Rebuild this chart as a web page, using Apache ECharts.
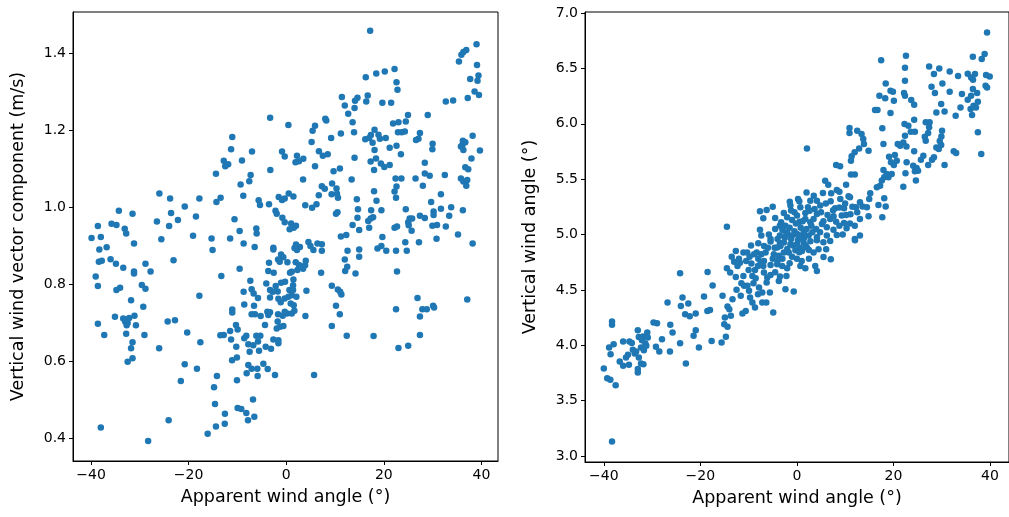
<!DOCTYPE html>
<html>
<head>
<meta charset="utf-8">
<script src="https://cdn.jsdelivr.net/npm/echarts@6/dist/echarts.min.js"></script>
<style>
  html, body { margin: 0; padding: 0; background: #fff; }
  #chart { width: 1009px; height: 517px; }
</style>
</head>
<body>
<div id="chart"></div>
<script>
// apparent wind angle (deg) vs vertical wind vector component (m/s)
const vectorPoints = [
  [-14.4,1.087],[-26.0,1.036],[-23.8,1.023],[-17.8,1.023],[-14.3,1.014],[-20.8,1.002],[-34.3,0.991],[-31.5,0.983],[-23.6,0.985],[-18.5,0.976],
  [-26.5,0.963],[-22.2,0.967],[-24.0,0.951],[-38.6,0.951],[-35.8,0.957],[-34.8,0.954],[-33.1,0.944],[-32.8,0.932],[-39.9,0.920],[-38.0,0.923],
  [-19.1,0.926],[-25.6,0.917],[-15.3,0.919],
  [-31.2,0.906],[-38.3,0.890],[-36.8,0.896],[-15.1,0.889],[-38.4,0.858],[-37.8,0.861],[-36.0,0.865],[-34.9,0.853],[-33.4,0.843],[-31.2,0.833],
  [-31.2,0.828],[-28.85,0.853],[-27.8,0.833],[-23.1,0.862],[-39.05,0.820],[-38.6,0.795],[-34.8,0.785],[-34.05,0.791],[-29.6,0.798],[-28.85,0.788],
  [-17.8,0.770],[-31.8,0.758],[-29.3,0.741],[-35.1,0.715],[-33.4,0.711],[-32.2,0.712],[-31.1,0.718],[-33.0,0.702],[-32.7,0.693],[-32.5,0.699],
  [-38.6,0.697],[-30.8,0.693],[-24.3,0.703],[-22.8,0.706],[-37.3,0.668],[-32.8,0.671],[-29.06,0.668],[-20.3,0.674],[-31.5,0.649],[-31.8,0.633],
  [-17.6,0.649],[-26.04,0.633],[-32.5,0.598],[-31.5,0.607],[-20.8,0.592],[-18.3,0.580],[-21.6,0.548],[-14.2,0.561],[-14.8,0.532],[-14.6,0.488],
  [-24.1,0.446],[-38.0,0.427],[-14.4,0.430],[-16.1,0.411],[-28.3,0.392],
  [11.4,1.287],[14.6,1.285],[14.1,1.277],[12.0,1.265],[14.0,1.258],[12.7,1.243],[13.6,1.221],[-3.3,1.233],[0.44,1.214],[8.0,1.230],
  [8.2,1.226],[5.9,1.212],[5.4,1.199],[11.2,1.192],[13.9,1.195],[9.2,1.180],[-11.06,1.183],[5.2,1.170],[-11.3,1.151],[-7.02,1.145],
  [-0.86,1.145],[-0.31,1.132],[6.7,1.146],[7.5,1.134],[8.5,1.138],[-12.8,1.121],[-11.9,1.112],[-12.5,1.107],[-9.07,1.122],[2.2,1.134],
  [1.9,1.117],[2.6,1.120],[3.5,1.126],[5.9,1.107],[14.0,1.129],[-3.26,1.097],[11.0,1.101],[9.7,1.094],[-7.3,1.084],[-7.57,1.068],
  [3.45,1.072],[13.4,1.072],[-9.35,1.059],[7.3,1.055],[7.9,1.048],[9.4,1.062],[10.3,1.049],[9.3,1.034],[10.4,1.035],[10.6,1.025],
  [-8.8,1.030],[-13.45,1.025],[-5.65,1.018],[-5.38,1.006],[-3.53,1.008],[-1.54,1.027],[-0.86,1.019],[-0.31,1.023],[0.51,1.036],[1.47,1.028],
  [6.67,1.031],[14.47,1.021],[3.9,1.005],[5.3,0.999],[6.2,1.008],[-2.2,0.991],[-1.95,0.983],[-0.79,0.973],[-0.31,0.961],[-10.6,0.969],
  [1.0,0.958],[2.0,0.952],[1.54,0.947],[0.7,0.943],[10.2,0.983],[10.5,0.987],[14.7,0.995],[14.6,0.973],[13.6,0.954],[-6.13,0.945],
  [-6.06,0.932],[-9.55,0.938],[-11.5,0.919],[11.2,0.924],[12.3,0.928],[14.95,0.941],
  [-8.73,0.906],[-6.47,0.897],[-2.64,0.895],[-2.64,0.890],[2.0,0.903],[1.7,0.894],[2.8,0.897],[2.2,0.889],[4.55,0.910],[4.96,0.899],
  [5.57,0.889],[6.4,0.906],[7.3,0.904],[7.3,0.887],[12.56,0.887],[14.95,0.890],[14.95,0.871],[12.0,0.864],[-1.06,0.877],[-0.6,0.870],
  [-1.68,0.864],[-3.53,0.856],[-1.34,0.858],[0.24,0.857],[1.95,0.857],[2.63,0.850],[4.0,0.861],[3.86,0.849],[3.45,0.840],[2.29,0.837],
  [1.13,0.832],[0.78,0.830],[-3.67,0.834],[-2.57,0.830],[-9.55,0.840],[7.15,0.830],[12.08,0.834],[12.5,0.845],[14.2,0.828],[-13.3,0.821],
  [-7.36,0.809],[-4.08,0.802],[-2.16,0.795],[-1.06,0.804],[-0.24,0.806],[1.47,0.812],[1.4,0.797],[-7.09,0.787],[-6.68,0.776],[-5.79,0.764],
  [-8.73,0.780],[-3.32,0.785],[-2.78,0.780],[-3.32,0.765],[-1.75,0.781],[0.65,0.785],[1.4,0.785],[2.08,0.767],[1.13,0.771],[0.44,0.767],
  [4.14,0.783],[9.34,0.796],[10.57,0.786],[11.05,0.780],[11.3,0.773],[-1.61,0.762],[-1.13,0.753],[-0.31,0.763],[-8.6,0.747],[-6.6,0.744],
  [-6.4,0.722],[-11.06,0.734],[-11.06,0.726],[-7.09,0.722],[-5.24,0.717],[-3.67,0.720],[-3.32,0.727],[-3.87,0.728],[-1.68,0.722],[-0.72,0.718],
  [0.17,0.724],[1.13,0.724],[1.67,0.731],[1.54,0.745],[0.92,0.750],[-0.31,0.728],[3.93,0.717],[10.2,0.744],[10.98,0.722],[-4.35,0.694],
  [-1.75,0.703],[-1.27,0.689],[-1.95,0.685],[-0.58,0.691],[-10.3,0.694],[-9.96,0.682],[-11.5,0.678],[-13.5,0.667],[-12.8,0.668],[9.34,0.691],
  [12.4,0.666],[-8.18,0.666],[-8.6,0.659],[-11.3,0.656],[-6.13,0.666],[-5.31,0.666],[-7.77,0.644],[-6.75,0.641],[-5.79,0.651],[-2.64,0.656],
  [-1.61,0.646],[-1.61,0.654],[-10.24,0.637],[-7.5,0.624],[-5.58,0.627],[-4.21,0.637],[-3.12,0.632],[-11.1,0.602],[-10.1,0.609],[-7.77,0.590],
  [-7.09,0.580],[-8.11,0.568],[-5.92,0.580],[-5.86,0.561],[-4.69,0.593],[-3.8,0.579],[-2.3,0.564],[5.71,0.564],[-10.1,0.550],[-6.81,0.500],
  [-9.96,0.478],[-9.21,0.475],[-8.18,0.465],[-6.54,0.455],[-7.84,0.446],[-12.56,0.463],[-12.6,0.437],
  [17.2,1.459],[39.0,1.424],[36.9,1.409],[36.3,1.404],[35.9,1.397],[35.4,1.379],[39.1,1.370],[39.4,1.343],[37.7,1.334],[39.2,1.329],
  [38.6,1.301],[39.5,1.292],[16.3,1.338],[18.45,1.348],[20.2,1.353],[22.2,1.360],[22.6,1.325],[22.8,1.306],[16.7,1.291],[16.4,1.275],
  [19.7,1.272],[21.5,1.272],[32.7,1.275],[34.2,1.278],[37.2,1.284],[24.95,1.240],[24.5,1.223],[23.0,1.221],[21.9,1.218],[29.0,1.240],
  [22.9,1.195],[23.65,1.195],[24.3,1.197],[18.1,1.202],[17.35,1.188],[18.9,1.189],[16.2,1.177],[17.0,1.180],[19.2,1.178],[20.4,1.180],
  [17.7,1.168],[27.4,1.193],[27.1,1.178],[26.6,1.175],[38.2,1.186],[36.2,1.173],[36.7,1.169],[36.1,1.162],[36.3,1.149],[35.8,1.158],
  [39.7,1.148],[30.0,1.165],[29.95,1.151],[21.2,1.155],[22.6,1.160],[23.5,1.138],[18.1,1.149],[18.4,1.127],[17.3,1.119],[18.0,1.097],
  [19.4,1.114],[20.1,1.105],[21.2,1.110],[37.96,1.127],[28.4,1.116],[36.7,1.104],[37.3,1.099],[28.4,1.088],[29.4,1.082],[32.5,1.084],
  [22.4,1.075],[23.6,1.075],[26.5,1.075],[35.8,1.075],[36.3,1.067],[37.1,1.071],[36.9,1.056],[28.0,1.056],[22.6,1.054],[22.2,1.041],
  [22.5,1.025],[18.0,1.042],[31.7,1.034],[18.5,1.017],[29.7,1.014],[24.5,0.995],[17.4,0.992],[19.5,0.992],[31.7,0.996],[33.8,1.000],
  [33.4,0.978],[36.2,0.992],[30.2,0.989],[30.2,0.980],[29.95,0.952],[25.3,0.971],[25.8,0.971],[25.0,0.961],[25.1,0.953],[27.4,0.978],
  [28.4,0.972],[17.8,0.974],[16.8,0.964],[17.3,0.971],[30.9,0.954],[32.7,0.950],[22.2,0.947],[22.7,0.950],[25.7,0.939],[17.0,0.947],
  [19.7,0.923],[35.2,0.929],
  [24.4,0.909],[27.2,0.909],[30.8,0.918],[38.2,0.906],[18.7,0.893],[19.5,0.899],[20.5,0.887],[22.5,0.887],[24.7,0.887],[22.7,0.833],
  [26.9,0.764],[37.1,0.760],[22.5,0.735],[27.9,0.735],[28.8,0.735],[30.1,0.744],[30.3,0.739],[27.4,0.716],[17.9,0.665],[27.4,0.668],
  [23.0,0.634],[25.0,0.640]
];

// apparent wind angle (deg) vs vertical wind angle (deg)
const anglePoints = [
  [10.9,5.962],[10.9,5.917],[12.5,5.938],[13.4,5.908],[13.75,5.862],[13.9,5.817],[2.09,5.778],[12.9,5.778],[11.97,5.742],[11.35,5.706],
  [11.2,5.667],[8.13,5.628],[8.95,5.616],[11.2,5.541],[12.0,5.541],[5.86,5.486],[10.2,5.450],[8.27,5.402],[8.81,5.387],[7.1,5.372],
  [5.4,5.375],[10.7,5.345],[11.0,5.336],[13.07,5.291],[13.6,5.252],[12.24,5.246],[12.5,5.200],[13.07,5.140],[0.24,5.321],[2.78,5.306],
  [4.15,5.306],[4.84,5.261],[3.67,5.231],[2.3,5.246],[1.75,5.195],[2.64,5.215],[4.15,5.185],[-1.47,5.297],[-1.34,5.261],[-1.2,5.216],
  [-2.71,5.195],[-2.02,5.156],[-3.26,5.110],[-3.53,5.080],[-2.37,5.080],[-7.65,5.210],[-6.27,5.222],[-6.96,5.147],[0.72,5.246],[0.03,5.171],
  [0.58,5.116],[1.75,5.140],[2.78,5.110],[3.46,5.140],[7.92,5.237],[8.81,5.243],[9.77,5.237],[9.3,5.171],[10.2,5.177],[11.1,5.183],
  [6.35,5.177],[6.9,5.140],[7.6,5.165],[8.13,5.116],[8.81,5.080],[5.18,5.095],[6.2,5.065],[7.58,5.044],[9.77,5.104],[10.3,5.056],
  [12.0,5.080],[-7.65,5.044],[-7.37,4.990],[-14.5,5.071],[-5.45,4.960],[-3.53,4.990],[-2.02,5.020],[-1.0,4.990],[0.03,5.005],[1.4,5.020],
  [2.44,4.990],[4.15,4.975],[6.2,4.990],[8.27,4.996],[12.0,4.960],[13.07,4.990],
  [-4.5,5.05],[-3.0,5.04],[-1.5,5.06],[-0.5,5.03],[0.8,5.06],[2.0,5.05],[3.2,5.02],[-4.0,4.96],[-2.5,4.97],[-1.2,4.96],
  [0.2,4.95],[1.5,4.97],[2.8,4.94],[-3.5,4.92],[-0.8,4.90],[0.6,4.88],[1.8,4.90],[-2.0,4.87],[-0.2,5.10],[1.2,5.12],
  [-1.0,5.13],[3.0,5.08],[-5.8,5.00],[4.8,5.02],[-2.2,5.00],[0.4,4.99],[5.5,4.93],[-4.6,4.88],
  [3.5,5.35],[5.0,5.20],[6.0,5.28],[7.0,5.30],[9.0,5.32],[10.0,5.28],[11.5,5.25],[5.5,5.12],[4.0,5.05],[9.5,5.00],
  [11.0,5.10],[7.5,5.22],[-0.5,5.20],[0.5,5.30],[-4.5,5.15],[-5.0,5.25],[2.0,5.38],[6.5,5.45],
  [39.4,6.825],[38.9,6.630],[38.3,6.585],[36.46,6.606],[17.46,6.575],[22.6,6.615],[22.4,6.506],[27.4,6.518],[29.5,6.500],[28.4,6.449],
  [31.66,6.473],[33.4,6.431],[35.4,6.452],[36.1,6.419],[36.9,6.449],[36.5,6.398],[39.2,6.440],[39.95,6.428],[22.4,6.389],[18.4,6.365],
  [27.9,6.335],[30.15,6.365],[39.1,6.344],[39.4,6.329],[19.4,6.299],[19.9,6.290],[17.1,6.254],[18.3,6.230],[20.1,6.208],[22.2,6.278],
  [22.4,6.254],[23.7,6.215],[24.3,6.173],[28.6,6.278],[31.66,6.290],[34.2,6.269],[35.4,6.217],[36.46,6.314],[37.35,6.278],[37.5,6.200],
  [36.1,6.254],[36.6,6.163],[36.0,6.133],[37.1,6.148],[36.3,6.079],[16.2,6.124],[16.7,6.124],[19.4,6.097],[29.9,6.178],[28.9,6.103],
  [30.6,6.112],[32.9,6.073],[33.9,6.148],[24.3,6.037],[22.3,5.998],[23.1,5.983],[24.45,5.929],[26.7,6.013],[27.5,6.013],[27.4,5.968],
  [27.2,5.917],[26.5,5.884],[30.08,5.938],[29.94,5.886],[29.6,5.844],[37.5,5.923],[17.7,5.959],[14.85,5.757],[23.6,5.929],[22.4,5.893],
  [22.05,5.832],[20.9,5.817],[21.4,5.802],[22.7,5.796],[17.94,5.817],[26.7,5.848],[28.9,5.787],[29.4,5.772],[29.9,5.808],[24.3,5.751],
  [26.2,5.712],[25.7,5.676],[32.5,5.751],[33.0,5.736],[38.2,5.727],[19.1,5.703],[20.3,5.718],[19.5,5.652],[20.7,5.667],[20.1,5.628],
  [22.74,5.652],[22.5,5.553],[24.1,5.622],[24.8,5.601],[24.45,5.571],[25.1,5.577],[28.4,5.697],[28.0,5.676],[27.2,5.628],[30.6,5.628],
  [17.94,5.583],[18.6,5.547],[19.65,5.547],[18.97,5.517],[24.66,5.487],[22.05,5.432],[17.6,5.487],[17.25,5.441],[16.57,5.426],[18.1,5.517],
  [15.2,5.372],[14.99,5.321],[18.1,5.327],[14.5,5.246],[16.9,5.267],[18.4,5.252],[14.85,5.164],[17.7,5.155],
  [-24.2,4.650],[-18.5,4.662],[-17.46,4.539],[-19.24,4.440],[-26.8,4.385],[-23.7,4.430],[-24.04,4.355],[-22.5,4.376],[-23.15,4.280],[-22.2,4.262],
  [-20.96,4.286],[-18.55,4.310],[-18.0,4.319],[-29.7,4.205],[-28.98,4.199],[-26.23,4.184],[-25.76,4.115],[-20.96,4.136],[-21.4,4.085],[-32.96,4.136],
  [-31.0,4.115],[-38.3,4.214],[-38.3,4.184],[-36.0,4.033],[-34.7,4.033],[-34.2,4.021],[-32.75,4.075],[-31.9,4.078],[-32.1,4.045],[-31.4,4.015],
  [-30.9,4.069],[-37.96,4.009],[-38.9,3.979],[-38.6,3.919],[-33.99,3.958],[-33.3,3.943],[-32.3,3.979],[-31.7,3.955],[-31.2,3.994],[-27.95,4.054],
  [-29.2,3.985],[-28.5,3.943],[-26.3,3.943],[-24.2,4.018],[-20.3,3.979],[-17.66,4.039],[-36.7,3.853],[-36.0,3.814],[-35.4,3.889],[-34.8,3.823],
  [-35.0,3.913],[-33.6,3.925],[-32.75,3.889],[-32.3,3.835],[-31.8,3.829],[-32.96,3.784],[-32.96,3.754],[-23.0,3.835],[-40.0,3.790],[-39.3,3.702],
  [-38.65,3.687],[-37.55,3.639],[-38.3,3.131],
  [12.04,4.948],[4.15,4.948],[6.9,4.942],[0.72,4.972],[1.4,4.927],[0.03,4.912],[-1.34,4.912],[-2.71,4.927],[-3.39,4.897],[-4.08,4.882],
  [-5.45,4.936],[-6.8,4.897],[2.09,4.882],[1.06,4.852],[-0.31,4.858],[-1.68,4.837],[-2.71,4.837],[-3.74,4.807],[-4.77,4.822],[3.46,4.837],
  [4.49,4.867],[6.07,4.867],[5.52,4.797],[7.03,4.776],[-12.65,4.852],[-11.08,4.837],[-10.3,4.837],[-8.88,4.822],[-8.33,4.837],[-7.37,4.822],
  [-6.48,4.837],[-13.0,4.755],[-11.8,4.746],[-12.3,4.716],[-14.5,4.695],[-13.82,4.656],[-12.65,4.617],[-9.43,4.737],[-8.68,4.680],[-8.06,4.716],
  [-6.82,4.761],[-6.96,4.716],[-5.45,4.725],[-4.08,4.731],[-3.05,4.716],[-2.02,4.695],[0.72,4.716],[1.75,4.695],[3.8,4.716],[4.15,4.671],
  [-11.08,4.626],[-9.22,4.626],[-8.54,4.605],[-6.82,4.656],[-6.14,4.611],[-5.45,4.635],[-6.27,4.566],[-3.74,4.581],[-2.16,4.626],[-10.94,4.536],
  [-10.25,4.536],[-9.91,4.491],[-7.85,4.521],[-8.06,4.461],[-7.17,4.476],[-5.59,4.476],[-2.37,4.506],[-0.65,4.485],[-15.4,4.446],[-13.34,4.415],
  [-11.63,4.446],[-9.7,4.430],[-9.22,4.385],[-8.68,4.340],[-7.17,4.385],[-6.34,4.385],[-4.9,4.295],[-14.37,4.349],[-14.0,4.325],[-11.28,4.286],
  [-10.6,4.310],[-14.92,4.250],[-13.68,4.265],[-15.05,4.190],[-14.37,4.166],[-14.71,4.076],[-15.6,4.024],
  [-13.5,4.80],[-12.0,4.78],[-10.5,4.76],[-9.8,4.80],[-8.0,4.78],[-7.5,4.74],[-5.0,4.78],[-4.0,4.76],[-3.0,4.78],[-1.0,4.80],
  [0.0,4.78],[1.0,4.76],[2.5,4.78],[-10.0,4.68],[-11.5,4.56],[-12.5,4.50],[-9.0,4.56],[-4.5,4.66],[-3.5,4.62],[-1.5,4.74],
  [0.5,4.84],[2.5,4.86],[-6.0,4.88],[-8.0,4.92],[-9.5,4.90]
];

const angleTicks = [-40, -20, 0, 20, 40];
const vectorTicks = [0.4, 0.6, 0.8, 1.0, 1.2, 1.4];
const verticalTicks = [3.0, 3.5, 4.0, 4.5, 5.0, 5.5, 6.0, 6.5, 7.0];

const FONT = 'DejaVu Sans';
const BLUE = '#1f77b4';

// matplotlib style minus sign
const fmtTick = digits => v => (v < 0 ? '\u2212' : '') + Math.abs(v).toFixed(digits);

function xAxisOf (gridIndex, min, max) {
  return {
    type: 'value', gridIndex: gridIndex, min: min, max: max,
    name: 'Apparent wind angle (°)', nameLocation: 'middle', nameGap: 27,
    nameTextStyle: { fontFamily: FONT, fontSize: 17.5, color: '#000' },
    splitLine: { show: false },
    axisLine: { show: true, onZero: false, lineStyle: { color: '#000', width: 1 } },
    axisTick: { show: true, customValues: angleTicks, length: 4, lineStyle: { color: '#000' } },
    axisLabel: { customValues: angleTicks, margin: 7, fontFamily: FONT, fontSize: 14, color: '#000', formatter: fmtTick(0) }
  }
}

function yAxisOf (gridIndex, min, max, ticks, name) {
  return {
    type: 'value', gridIndex: gridIndex, min: min, max: max,
    name: name, nameLocation: 'middle', nameGap: 46, nameRotate: 90,
    nameTextStyle: { fontFamily: FONT, fontSize: 17.5, color: '#000' },
    splitLine: { show: false },
    axisLine: { show: true, onZero: false, lineStyle: { color: '#000', width: 1 } },
    axisTick: { show: true, customValues: ticks, length: 4, lineStyle: { color: '#000' } },
    axisLabel: { customValues: ticks, margin: 7, fontFamily: FONT, fontSize: 14, color: '#000', formatter: fmtTick(1) }
  }
}

const chart = echarts.init(document.getElementById('chart'), null, { renderer: 'canvas' })
chart.setOption({
  animation: false,
  backgroundColor: '#fff',
  grid: [
    { left: 73, top: 12, width: 425, height: 449, show: true, borderColor: '#000', borderWidth: 1 },
    { left: 585, top: 12, width: 427, height: 450, show: true, borderColor: '#000', borderWidth: 1 }
  ],
  xAxis: [
    xAxisOf(0, -43.7, 43.4),
    xAxisOf(1, -43.9, 43.95)
  ],
  yAxis: [
    yAxisOf(0, 0.340, 1.508, vectorTicks, 'Vertical wind vector component (m/s)'),
    yAxisOf(1, 2.945, 7.01, verticalTicks, 'Vertical wind angle (°)')
  ],
  series: [
    {
      type: 'scatter', xAxisIndex: 0, yAxisIndex: 0, data: vectorPoints,
      symbolSize: 6.5, itemStyle: { color: BLUE, opacity: 1 }
    },
    {
      type: 'scatter', xAxisIndex: 1, yAxisIndex: 1, data: anglePoints,
      symbolSize: 6.5, itemStyle: { color: BLUE, opacity: 1 }
    }
  ]
})
</script>
</body>
</html>
